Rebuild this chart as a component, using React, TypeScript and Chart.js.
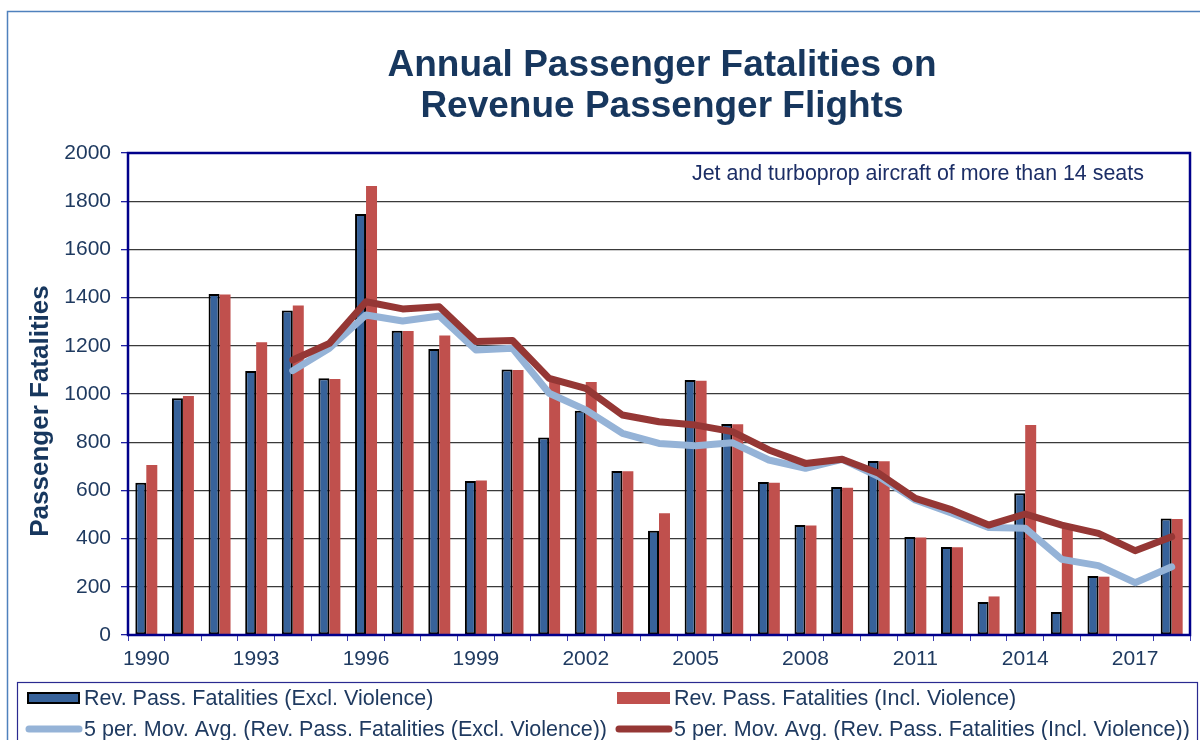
import React, { useEffect, useRef } from 'react';
import { Chart, registerables } from 'chart.js';

Chart.register(...registerables);

const YEARS = [
  '1990', '1991', '1992', '1993', '1994', '1995', '1996', '1997', '1998', '1999',
  '2000', '2001', '2002', '2003', '2004', '2005', '2006', '2007', '2008', '2009',
  '2010', '2011', '2012', '2013', '2014', '2015', '2016', '2017', '2018',
];

const FATAL_EXCL = [
  632, 982, 1415, 1095, 1346, 1065, 1747, 1262, 1187, 639,
  1102, 820, 931, 680, 433, 1058, 876, 635, 456, 614,
  722, 407, 365, 137, 588, 95, 245, 4, 483,
];

const FATAL_INCL = [
  705, 992, 1413, 1215, 1367, 1062, 1863, 1261, 1243, 641,
  1100, 1051, 1050, 679, 505, 1055, 874, 632, 454, 611,
  721, 405, 364, 160, 871, 447, 242, 2, 481,
];

const MA_EXCL = [
  null, null, null, null, 1097, 1190, 1328, 1303, 1324, 1183,
  1190, 1003, 934, 837, 795, 785, 798, 726, 692, 729,
  657, 560, 505, 446, 443, 314, 288, 217, 283,
];

const MA_INCL = [
  null, null, null, null, 1141, 1210, 1383, 1353, 1362, 1218,
  1222, 1065, 1023, 913, 885, 871, 844, 768, 712, 729,
  671, 567, 519, 456, 502, 456, 422, 350, 408,
];

const LABEL_EXCL = 'Rev. Pass. Fatalities (Excl. Violence)';
const LABEL_INCL = 'Rev. Pass. Fatalities (Incl. Violence)';
const LABEL_MA_EXCL = '5 per. Mov. Avg. (Rev. Pass. Fatalities (Excl. Violence))';
const LABEL_MA_INCL = '5 per. Mov. Avg. (Rev. Pass. Fatalities (Incl. Violence))';

const TITLE_LINES = ['Annual Passenger Fatalities on', 'Revenue Passenger Flights'];
const Y_TITLE = 'Passenger Fatalities';
const NOTE = 'Jet and turboprop aircraft of more than 14 seats';

const FONT = '"Liberation Sans", Arial, Helvetica, sans-serif';
const TEXT_NAVY = '#1F3A60';
const BLUE = '#37629A';
const RED = '#C0504D';
const LIGHT_BLUE = '#95B3D7';
const DARK_RED = '#953735';

const overlay = {
  id: 'overlay',
  afterDraw(chart: any) {
    const { ctx, chartArea: a } = chart;
    ctx.save();

    // outer chart frame
    ctx.strokeStyle = '#4F81BD';
    ctx.lineWidth = 1.5;
    ctx.strokeRect(7.5, 11.5, 1400, 1000);

    // plot area frame
    ctx.strokeStyle = '#00008B';
    ctx.lineWidth = 2.5;
    ctx.strokeRect(a.left, a.top, a.right - a.left, a.bottom - a.top);

    // title
    ctx.fillStyle = '#17375E';
    ctx.font = `bold 37px ${FONT}`;
    ctx.textAlign = 'center';
    ctx.textBaseline = 'alphabetic';
    TITLE_LINES.forEach((t, i) => ctx.fillText(t, 662, 76 + i * 41));

    // y axis title
    ctx.save();
    ctx.translate(41, 411);
    ctx.rotate(-Math.PI / 2);
    ctx.font = `bold 26px ${FONT}`;
    ctx.textAlign = 'center';
    ctx.textBaseline = 'middle';
    ctx.fillText(Y_TITLE, 0, 0);
    ctx.restore();

    // note
    ctx.font = `21.4px ${FONT}`;
    ctx.textAlign = 'left';
    ctx.textBaseline = 'alphabetic';
    ctx.fillStyle = '#1C2E66';
    ctx.fillText(NOTE, 692, 180);

    // legend box
    ctx.strokeStyle = '#2A2A90';
    ctx.lineWidth = 1.2;
    ctx.strokeRect(17.5, 682.5, 1180, 100);

    const ds = chart.data.datasets;
    const items = [
      { d: ds[0], x: 27, y: 698 },
      { d: ds[1], x: 617, y: 698 },
      { d: ds[2], x: 27, y: 729 },
      { d: ds[3], x: 617, y: 729 },
    ];
    ctx.font = `21.5px ${FONT}`;
    ctx.textBaseline = 'middle';
    items.forEach(({ d, x, y }) => {
      if (d.type === 'line') {
        ctx.strokeStyle = d.borderColor;
        ctx.lineWidth = 7;
        ctx.lineCap = 'round';
        ctx.beginPath();
        ctx.moveTo(x + 2, y);
        ctx.lineTo(x + 52, y);
        ctx.stroke();
      } else {
        ctx.fillStyle = d.backgroundColor;
        ctx.fillRect(x, y - 6, 53, 12);
        if (d.borderWidth) {
          ctx.strokeStyle = d.borderColor;
          ctx.lineWidth = 2;
          ctx.strokeRect(x + 1, y - 5, 51, 10);
        }
      }
      ctx.fillStyle = TEXT_NAVY;
      ctx.fillText(d.label, x + 57, y + 1);
    });

    ctx.restore();
  },
};

export default function App() {
  const ref = useRef<HTMLCanvasElement | null>(null);

  useEffect(() => {
    if (!ref.current) return;
    Chart.defaults.font.family = FONT;
    const chart = new Chart(ref.current, {
      type: 'bar',
      data: {
        labels: YEARS,
        datasets: [
          {
            type: 'bar',
            label: LABEL_EXCL,
            data: FATAL_EXCL,
            backgroundColor: BLUE,
            borderColor: '#000000',
            borderWidth: 2,
            borderSkipped: false,
            categoryPercentage: 0.6,
            barPercentage: 1.0,
            order: 2,
          } as any,
          {
            type: 'bar',
            label: LABEL_INCL,
            data: FATAL_INCL,
            backgroundColor: RED,
            borderWidth: 0,
            categoryPercentage: 0.6,
            barPercentage: 1.0,
            order: 3,
          } as any,
          {
            type: 'line',
            label: LABEL_MA_EXCL,
            data: MA_EXCL,
            borderColor: LIGHT_BLUE,
            borderWidth: 7,
            pointRadius: 0,
            tension: 0,
            borderCapStyle: 'round',
            borderJoinStyle: 'round',
            fill: false,
            order: 1,
          } as any,
          {
            type: 'line',
            label: LABEL_MA_INCL,
            data: MA_INCL,
            borderColor: DARK_RED,
            borderWidth: 7,
            pointRadius: 0,
            tension: 0,
            borderCapStyle: 'round',
            borderJoinStyle: 'round',
            fill: false,
            order: 0,
          } as any,
        ],
      },
      options: {
        responsive: false,
        animation: false,
        devicePixelRatio: 1,
        layout: { padding: { top: 153, right: 10, left: 0, bottom: 0 } },
        plugins: {
          legend: { display: false },
          title: { display: false },
          tooltip: { enabled: false },
        },
        scales: {
          x: {
            grid: {
              offset: true,
              drawOnChartArea: false,
              drawTicks: true,
              tickLength: 6,
              tickColor: '#3B3BB0',
              lineWidth: 1,
            },
            border: { display: false },
            ticks: {
              autoSkip: false,
              maxRotation: 0,
              minRotation: 0,
              padding: 6,
              color: TEXT_NAVY,
              font: { size: 21 },
              callback: (_v: any, i: number) => (i % 3 === 0 ? YEARS[i] : ''),
            },
            afterFit: (s: any) => {
              s.height = 105;
            },
          },
          y: {
            min: 0,
            max: 2000,
            grid: {
              color: '#3A3A3A',
              lineWidth: 1.3,
              drawTicks: true,
              tickLength: 7,
              tickColor: '#2020A0',
            },
            border: { display: false },
            ticks: {
              stepSize: 200,
              padding: 10,
              color: TEXT_NAVY,
              font: { size: 21 },
              callback: (v: any) => String(v),
            },
            afterFit: (s: any) => {
              s.width = 128;
            },
          },
        },
      },
      plugins: [overlay],
    });
    return () => chart.destroy();
  }, []);

  return (
    <div
      style={{
        position: 'fixed',
        left: 0,
        top: 0,
        width: 1200,
        height: 740,
        overflow: 'hidden',
        background: '#ffffff',
      }}
    >
      <canvas ref={ref} width={1200} height={740} style={{ display: 'block', width: 1200, height: 740 }} />
    </div>
  );
}
